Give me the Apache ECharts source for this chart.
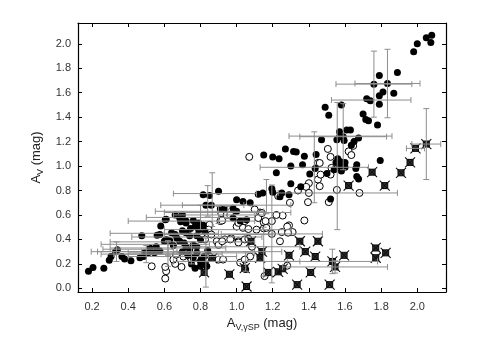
<!DOCTYPE html>
<html>
<head>
<meta charset="utf-8">
<script src="https://cdn.jsdelivr.net/npm/echarts@6/dist/echarts.min.js"></script>
<style>
  html, body { margin: 0; padding: 0; background: #fff; }
  #chart { width: 491px; height: 347px; }
</style>
</head>
<body>
<div id="chart"></div>
<script>
// ------------------------------
// DATA
// ------------------------------
const tickValsX = [0.2, 0.4, 0.6, 0.8, 1.0, 1.2, 1.4, 1.6, 1.8, 2.0];
const tickValsY = [0.0, 0.2, 0.4, 0.6, 0.8, 1.0, 1.2, 1.4, 1.6, 1.8, 2.0];

// filled circles [x, y]
const filledPts = [
  [2.05,2.05],[2.08,2.07],[2.075,2.01],[2.0,2.0],[1.98,1.935],[1.89,1.765],[1.79,1.74],[1.76,1.67],
  [1.835,1.675],[1.81,1.605],[1.79,1.575],[1.87,1.595],[1.72,1.55],[1.74,1.535],[1.79,1.505],[1.49,1.48],
  [1.51,1.415],[1.58,1.5],[1.70,1.425],[1.715,1.38],[1.73,1.37],[1.78,1.335],[1.57,1.28],[1.61,1.295],
  [1.63,1.295],[1.57,1.24],[1.59,1.24],[1.555,1.215],[1.595,1.21],[1.47,1.215],[1.675,1.23],[1.65,1.2],
  [1.635,1.17],[1.27,1.14],[1.315,1.12],[1.33,1.115],[1.375,1.08],[1.44,1.095],[1.15,1.09],[1.2,1.075],
  [1.235,1.06],[1.3,1.0],[1.365,1.01],[1.665,1.01],[1.795,1.045],[1.55,1.03],[1.575,1.035],[1.6,1.03],
  [1.22,0.945],[1.405,0.935],[1.435,0.98],[1.195,0.815],[1.3,0.855],[1.355,0.83],[0.9,0.795],[0.85,0.76],
  [1.12,0.77],[1.145,0.78],[1.25,0.78],[1.29,0.765],[1.665,0.915],[1.675,0.895],[1.66,0.98],[1.57,1.0],
  [1.52,0.73],[1.0,0.725],[1.2,0.785],[1.24,0.75],[1.54,0.97],[1.58,0.96],[1.6,0.99],[1.56,1.06],[1.5,0.94],
  [0.815,0.765],[0.86,0.68],[0.83,0.68],[0.605,0.56],[0.58,0.51],[0.69,0.585],[0.69,0.545],[0.72,0.55],
  [0.76,0.555],[0.77,0.505],[0.79,0.48],[0.815,0.515],[0.91,0.65],[0.935,0.645],[0.98,0.655],[1.0,0.63],
  [0.98,0.575],[1.02,0.55],[1.055,0.56],[1.035,0.71],[1.075,0.7],[0.72,0.535],[0.79,0.535],[0.8,0.485],
  [0.825,0.465],[0.72,0.455],[0.71,0.37],[0.76,0.355],[0.8,0.4],[0.78,0.29],[0.8,0.22],[0.77,0.165],
  [0.61,0.4],[0.63,0.39],[0.67,0.41],[0.685,0.385],[0.72,0.34],[0.78,0.34],[0.805,0.235],[0.815,0.21],
  [0.835,0.18],[0.8,0.18],[0.74,0.315],[0.52,0.33],[0.49,0.29],[0.555,0.34],
  [0.18,0.14],[0.205,0.17],[0.265,0.165],[0.295,0.23],[0.305,0.26],[0.33,0.3],[0.34,0.315],[0.365,0.26],
  [0.38,0.24],[0.415,0.225],[0.465,0.25],[0.485,0.26],[0.51,0.29],[0.475,0.43],[0.56,0.435],[0.575,0.44],
  [0.61,0.565],[0.685,0.575],[0.64,0.455],[0.6,0.385],[0.575,0.305],[0.545,0.29],
  [0.7,0.47],[0.74,0.43],[0.745,0.49],[0.66,0.44],[0.65,0.35],[0.7,0.3],[0.73,0.27],[0.76,0.25],
  [0.75,0.2],[0.82,0.26],[0.84,0.31],[0.78,0.43],[0.7,0.6],[0.66,0.6],[1.05,0.155]
];

// open circles [x, y]
const openPts = [
  [1.07,1.075],[1.4,0.86],[1.385,0.83],[1.34,0.8],[1.4,0.78],[1.45,1.025],[1.45,0.89],[1.23,0.755],
  [1.505,1.14],[1.46,1.025],[1.52,1.075],[1.62,1.12],[1.645,1.165],[1.635,1.09],[1.525,0.985],[1.465,0.93],
  [1.52,0.93],[1.555,0.805],[1.68,0.78],[1.46,0.835],[1.295,0.7],[1.395,0.705],[1.51,0.705],[1.375,0.555],
  [1.29,0.515],[1.25,0.46],[1.15,0.49],[1.31,0.46],[1.24,0.385],[1.195,0.445],[1.13,0.62],[1.12,0.575],
  [1.15,0.54],[1.255,0.595],[1.195,0.55],[1.085,0.34],
  [0.53,0.18],[0.61,0.14],[0.605,0.08],[0.66,0.2],[0.695,0.175],[0.65,0.235],[0.605,0.175],[0.665,0.275],
  [0.705,0.26],[0.74,0.26],[0.77,0.25],[0.85,0.26],[0.9,0.235],[0.925,0.235],[0.89,0.385],[0.935,0.4],
  [0.97,0.41],[1.01,0.385],[1.045,0.4],[0.915,0.615],[0.945,0.6],[0.965,0.6],[1.0,0.505],[1.035,0.495],
  [0.91,0.55],[0.85,0.52],[1.075,0.26],[1.02,0.21],[0.805,0.44],[0.825,0.4],[0.845,0.48],[0.75,0.235],
  [0.92,0.555],[1.01,0.535],[1.045,0.55],[1.065,0.485],[1.11,0.48],[1.165,0.495],[1.14,0.615],[1.1,0.645],
  [1.22,0.6],[1.16,0.55],[1.28,0.505],[1.285,0.455],[0.965,0.4],[1.01,0.375],[1.065,0.405],[0.9,0.355],
  [0.92,0.385],[0.86,0.44],[0.825,0.235],[1.045,0.235],[1.155,0.1],[1.28,0.185]
];

// crossed squares [x, y]
const crossPts = [
  [1.99,1.145],[2.05,1.18],[1.96,1.03],[1.91,0.945],[1.75,0.95],[1.82,0.84],[1.62,0.84],
  [1.35,0.385],[1.45,0.385],[1.38,0.3],[1.435,0.26],[1.29,0.27],[1.595,0.27],[1.53,0.22],[1.545,0.175],
  [1.77,0.33],[1.825,0.29],[1.77,0.25],[1.41,0.13],[1.335,0.03],[1.515,0.03],[1.175,0.13],[1.23,0.135],
  [1.255,0.16],[1.13,0.25],[1.08,0.385],[0.865,0.245],[0.96,0.115],[1.045,0.165],[1.14,0.3],
  [1.055,0.015],[0.82,0.13]
];

// error bars [x, y, xerr, yerr]
const errBars = [
  [1.76,1.67,0.21,0.27],[1.835,1.675,0.18,0.28],[1.745,1.54,0.22,0],[1.575,1.245,0.285,0],
  [1.59,1.24,0.24,0.27],[1.557,1.0,0,0.52],[1.43,0.99,0.3,0.29],[2.05,1.18,0.08,0.29],
  [1.99,1.145,0.05,0],[1.56,0.78,0.33,0],[1.195,0.445,0.28,0.4],[1.53,0.22,0.25,0.1],
  [1.545,0.175,0.29,0.05],[0.88,0.775,0.23,0],[0.865,0.725,0,0.22],[0.84,0.715,0,0.125],
  [1.165,0.75,0,0.14],[0.81,0.68,0.23,0],[0.83,0.21,0,0.2],[0.335,0.3,0.14,0.08],
  [0.455,0.32,0.195,0],[0.5,0.28,0.25,0.07],[0.45,0.3,0.22,0],[0.62,0.28,0.3,0.1],
  [0.7,0.26,0.3,0],[0.75,0.29,0.35,0.09],[0.85,0.63,0.3,0],[0.9,0.6,0.25,0.07],
  [0.95,0.48,0.35,0],[0.9,0.44,0.3,0],[1.0,0.34,0.35,0],[0.95,0.3,0.3,0],
  [0.9,0.22,0.25,0],[1.05,0.22,0.3,0.08],
  [0.6,0.45,0.3,0],[0.75,0.55,0.35,0],[0.8,0.58,0.3,0.1],[0.55,0.36,0.3,0],
  [0.7,0.38,0.4,0],[1.0,0.68,0.3,0],[0.95,0.62,0.35,0.05],[0.62,0.33,0.32,0.06],
  [0.78,0.42,0.36,0],[1.15,0.3,0,0.2]
];

// ------------------------------
// CHART
// ------------------------------
const chart = echarts.init(document.getElementById("chart"), null, { renderer: "canvas" });

const font = "'Liberation Sans', Arial, sans-serif";
const barColor = "#8e8e8e";
const cap = 3;

let renderErr = (params, api) => {
  let x = api.value(0), y = api.value(1), ex = api.value(2), ey = api.value(3);
  let kids = [];
  let style = { stroke: barColor, lineWidth: 1 };
  if (ex > 0) {
    let l = api.coord([x - ex, y]), r = api.coord([x + ex, y]);
    kids.push({ type: "line", shape: { x1: l[0], y1: l[1], x2: r[0], y2: r[1] }, style });
    kids.push({ type: "line", shape: { x1: l[0], y1: l[1] - cap, x2: l[0], y2: l[1] + cap }, style });
    kids.push({ type: "line", shape: { x1: r[0], y1: r[1] - cap, x2: r[0], y2: r[1] + cap }, style });
  }
  if (ey > 0) {
    let t = api.coord([x, y + ey]), b = api.coord([x, y - ey]);
    kids.push({ type: "line", shape: { x1: t[0], y1: t[1], x2: b[0], y2: b[1] }, style });
    kids.push({ type: "line", shape: { x1: t[0] - cap, y1: t[1], x2: t[0] + cap, y2: t[1] }, style });
    kids.push({ type: "line", shape: { x1: b[0] - cap, y1: b[1], x2: b[0] + cap, y2: b[1] }, style });
  }
  return { type: "group", children: kids };
};

let renderCross = (params, api) => {
  let p = api.coord([api.value(0), api.value(1)]);
  let s = 3, a = 5;
  let st = { stroke: "#111", lineWidth: 1.1 };
  return {
    type: "group",
    children: [
      { type: "rect", shape: { x: p[0] - s, y: p[1] - s, width: 2 * s, height: 2 * s }, style: { fill: "#333", stroke: "#000", lineWidth: 1 } },
      { type: "line", shape: { x1: p[0] - a, y1: p[1] - a, x2: p[0] + a, y2: p[1] + a }, style: st },
      { type: "line", shape: { x1: p[0] - a, y1: p[1] + a, x2: p[0] + a, y2: p[1] - a }, style: st }
    ]
  };
};

let axisCommon = {
  axisLine: { show: true, onZero: false, lineStyle: { color: "#000", width: 1.2 } },
  axisTick: { show: true, inside: true, length: 4, lineStyle: { color: "#000", width: 1 } },
  splitLine: { show: false }
};

const xMin = 0.122, xMax = 2.159, yMin = -0.03, yMax = 2.17;

chart.setOption({
  animation: false,
  backgroundColor: "#fff",
  grid: { left: 78, right: 45, top: 23, bottom: 55 },
  xAxis: [
    {
      ...axisCommon, type: "value", position: "bottom", min: xMin, max: xMax,
      axisTick: { ...axisCommon.axisTick, customValues: tickValsX },
      axisLabel: { customValues: tickValsX, formatter: v => v.toFixed(1), color: "#333", fontFamily: font, fontSize: 11, margin: 9 },
      name: "{a|A}{s|V,γSP}{a| (mag)}",
      nameLocation: "middle", nameGap: 22,
      nameTextStyle: {
        rich: {
          a: { fontFamily: font, fontSize: 13, color: "#222" },
          s: { fontFamily: font, fontSize: 9, color: "#222", padding: [8, 0, 0, 0] }
        }
      }
    },
    {
      ...axisCommon, type: "value", position: "top", min: xMin, max: xMax,
      axisTick: { ...axisCommon.axisTick, customValues: tickValsX },
      axisLabel: { show: false }
    }
  ],
  yAxis: [
    {
      ...axisCommon, type: "value", position: "left", min: yMin, max: yMax,
      axisTick: { ...axisCommon.axisTick, customValues: tickValsY },
      axisLabel: { customValues: tickValsY, formatter: v => v.toFixed(1), color: "#333", fontFamily: font, fontSize: 11, margin: 7 },
      name: "{a|A}{s|V}{a| (mag)}",
      nameLocation: "middle", nameGap: 28, nameRotate: 90,
      nameTextStyle: {
        rich: {
          a: { fontFamily: font, fontSize: 13, color: "#222" },
          s: { fontFamily: font, fontSize: 9, color: "#222", padding: [8, 0, 0, 0] }
        }
      }
    },
    {
      ...axisCommon, type: "value", position: "right", min: yMin, max: yMax,
      axisTick: { ...axisCommon.axisTick, customValues: tickValsY },
      axisLabel: { show: false }
    }
  ],
  series: [
    {
      type: "scatter", data: openPts, symbol: "circle", symbolSize: 7,
      itemStyle: { color: "#fff", borderColor: "#000", borderWidth: 1, opacity: 1 }, z: 2
    },
    {
      type: "scatter", data: filledPts, symbol: "circle", symbolSize: 7,
      itemStyle: { color: "#000", opacity: 1 }, z: 3
    },
    { type: "custom", data: crossPts, renderItem: renderCross, z: 4 },
    { type: "custom", data: errBars, renderItem: renderErr, z: 5 }
  ]
});
</script>
</body>
</html>
